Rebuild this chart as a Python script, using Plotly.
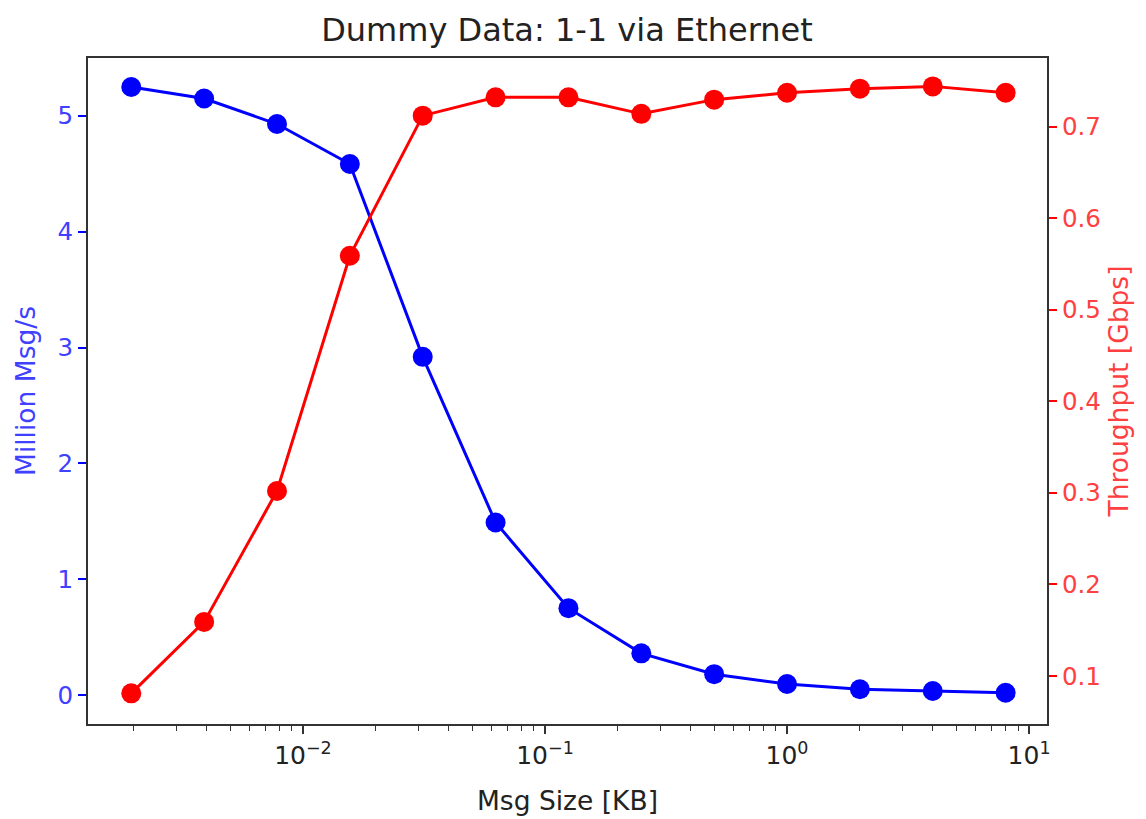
import plotly.graph_objects as go

msg_size_kb = [2/1024, 4/1024, 8/1024, 16/1024, 32/1024, 64/1024, 128/1024,
               256/1024, 512/1024, 1, 2, 4, 8]
million_msgs = [5.25, 5.15, 4.93, 4.585, 2.92, 1.49, 0.75, 0.36, 0.18, 0.095, 0.05, 0.035, 0.02]
throughput_gbps = [0.081, 0.159, 0.302, 0.559, 0.712, 0.732, 0.732, 0.714, 0.7295, 0.737, 0.7415, 0.744, 0.737]

x_tickvals = [0.01, 0.1, 1, 10]
x_ticktext = ["10<sup>\u22122</sup>", "10<sup>\u22121</sup>", "10<sup>0</sup>", "10<sup>1</sup>"]
y1_ticks = [0, 1, 2, 3, 4, 5]
y2_ticks = [0.1, 0.2, 0.3, 0.4, 0.5, 0.6, 0.7]

minor_vals = [m * 10.0 ** e for e in range(-3, 2) for m in range(2, 10)]

FONT = "DejaVu Sans"
AX = "#333333"
W, H = 1138, 811

fig = go.Figure()
fig.add_trace(go.Scatter(x=msg_size_kb, y=million_msgs, mode="lines+markers",
                         line=dict(color="blue", width=3),
                         marker=dict(color="blue", size=20),
                         yaxis="y", showlegend=False))
fig.add_trace(go.Scatter(x=msg_size_kb, y=throughput_gbps, mode="lines+markers",
                         line=dict(color="red", width=3),
                         marker=dict(color="red", size=20),
                         yaxis="y2", showlegend=False))

fig.update_layout(
    width=W, height=H,
    margin=dict(l=80, r=W - 1039, t=50, b=H - 716, autoexpand=False),
    paper_bgcolor="white", plot_bgcolor="white",
    font=dict(family=FONT, size=24, color="#222222"),
    title=dict(text="Dummy Data: 1-1 via Ethernet", x=(567 - 8) / W, xanchor="center",
               y=1 - 22 / H, yanchor="middle", yref="container",
               font=dict(size=32, color="#222222")),
    xaxis=dict(type="log", range=[-2.888, 1.074],
               tickvals=x_tickvals, ticktext=x_ticktext,
               ticks="outside", ticklen=8, tickwidth=1.5, tickcolor=AX,
               minor=dict(tickvals=minor_vals, ticks="outside", ticklen=5, tickwidth=1.2, tickcolor=AX, showgrid=False),
               showline=True, linecolor=AX, linewidth=2, mirror=True,
               showgrid=False, zeroline=False,
               tickfont=dict(size=25, color="#222222"),
               title=dict(text="Msg Size [KB]", standoff=22, font=dict(size=26.5, color="#222222"))),
    yaxis=dict(range=[-0.25, 5.50], tickvals=y1_ticks,
               ticks="outside", ticklen=8, tickwidth=1.5, tickcolor="blue",
               showline=True, linecolor=AX, linewidth=2,
               showgrid=False, zeroline=False,
               tickfont=dict(size=24.5, color="#4040ff"),
               title=dict(text="Million Msg/s", standoff=14, font=dict(size=26.5, color="#4040ff"))),
    yaxis2=dict(range=[0.0475, 0.775], tickvals=y2_ticks, overlaying="y", side="right",
                tickformat=".1f",
                ticks="outside", ticklen=8, tickwidth=1.5, tickcolor="red",
                showline=True, linecolor=AX, linewidth=2,
                showgrid=False, zeroline=False,
                tickfont=dict(size=24.5, color="#ff4040"),
                title=dict(text="Throughput [Gbps]", standoff=10, font=dict(size=26.5, color="#ff4040"))),
)

fig.write_html("out.html")
